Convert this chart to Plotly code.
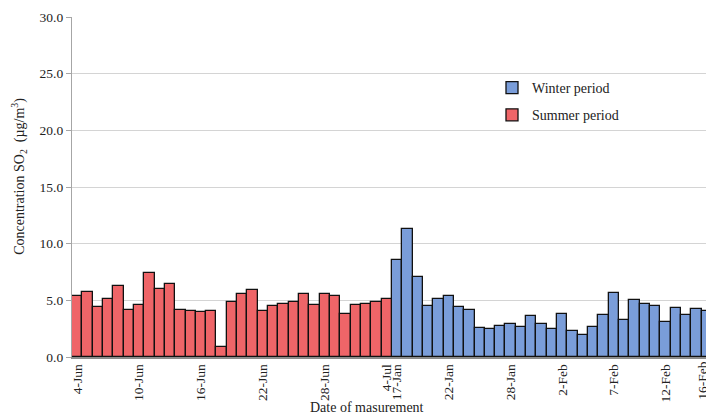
import pandas as pd
import plotly.graph_objects as go

# Daily SO2 concentrations (µg/m³)
summer_dates = [f"{d.day}-{d.strftime('%b')}" for d in pd.date_range("2019-06-04", "2019-07-04")]
winter_dates = [f"{d.day}-{d.strftime('%b')}" for d in pd.date_range("2020-01-17", "2020-02-16")]

summer_values = [5.34, 5.75, 4.42, 5.16, 6.25, 4.19, 4.63, 7.43, 6.02, 6.43,
                 4.19, 4.04, 3.95, 4.10, 0.86, 4.81, 5.52, 5.87, 4.10, 4.51,
                 4.72, 4.81, 5.60, 4.57, 5.52, 5.40, 3.81, 4.63, 4.72, 4.81, 5.16]
winter_values = [8.58, 11.27, 7.08, 4.54, 5.13, 5.34, 4.40, 4.16, 2.57, 2.48,
                 2.74, 2.92, 2.68, 3.63, 2.93, 2.48, 3.78, 2.33, 1.98, 2.65,
                 3.75, 5.69, 3.27, 4.99, 4.69, 4.51, 3.10, 4.28, 3.72, 4.22, 4.04]

tick_labels = ["4-Jun", "10-Jun", "16-Jun", "22-Jun", "28-Jun", "4-Jul",
               "17-Jan", "22-Jan", "28-Jan", "2-Feb", "7-Feb", "12-Feb", "16-Feb"]

all_dates = summer_dates + winter_dates
x_range = [-0.5, len(all_dates) - 1 - 0.07]

FONT = "Liberation Serif"
W, H = 706, 414
ML, MT, MB = 72, 17, 57

fig = go.Figure()
fig.add_trace(go.Bar(
    x=winter_dates, y=winter_values, name="Winter period", legendgroup="w",
    marker=dict(color="#7A9DD9", line=dict(color="#111111", width=1.3)),
))
fig.add_trace(go.Bar(
    x=summer_dates, y=summer_values, name="Summer period", legendgroup="s",
    marker=dict(color="#EF6568", line=dict(color="#111111", width=1.3)),
))

# tick labels that fall past the visible range are written as annotations
visible_ticks = [t for t in tick_labels if all_dates.index(t) <= x_range[1]]
hidden_ticks = [t for t in tick_labels if all_dates.index(t) > x_range[1]]
span = x_range[1] - x_range[0]
for t in hidden_ticks:
    fig.add_annotation(
        x=(all_dates.index(t) - x_range[0]) / span, y=0, xref="paper", yref="paper",
        text=t, textangle=-90, showarrow=False, xanchor="center", yanchor="top",
        xshift=-5, yshift=-3, font=dict(family=FONT, size=13.5, color="#222222"),
    )

plot_w = W - ML
plot_h = H - MT - MB
fig.add_annotation(
    x=(367 - ML) / plot_w, y=(H - MB - 408) / plot_h, xref="paper", yref="paper",
    text="Date of masurement", showarrow=False, xanchor="center", yanchor="middle",
    font=dict(family=FONT, size=14, color="#222222"),
)
fig.add_annotation(
    x=(19 - ML) / plot_w, y=0.53, xref="paper", yref="paper",
    text="Concentration SO<sub>2</sub>  (µg/m<sup>3</sup>)", textangle=-90,
    showarrow=False, xanchor="center", yanchor="middle",
    font=dict(family=FONT, size=14, color="#222222"),
)

fig.update_layout(
    width=W, height=H,
    margin=dict(l=ML, r=0, t=MT, b=MB),
    paper_bgcolor="white", plot_bgcolor="white",
    barmode="overlay", bargap=0,
    font=dict(family=FONT, size=13.5, color="#222222"),
    showlegend=True,
    legend=dict(
        x=(492 - ML) / plot_w, y=(H - MB - 72) / plot_h, xanchor="left", yanchor="top",
        bgcolor="rgba(0,0,0,0)", font=dict(family=FONT, size=14, color="#222222"),
        traceorder="grouped", tracegroupgap=6,
    ),
    xaxis=dict(
        type="category", categoryorder="array", categoryarray=all_dates,
        range=x_range, tickmode="array", tickvals=visible_ticks, ticktext=visible_ticks,
        tickangle=-90, showgrid=False, showline=True, linecolor="#8C8C8C", linewidth=1.5,
        ticks="", tickfont=dict(family=FONT, size=13.5, color="#222222"),
    ),
    yaxis=dict(
        range=[0, 30], tickmode="linear", tick0=0, dtick=5, tickformat=".1f",
        showgrid=True, gridcolor="#D4D4D4", gridwidth=1.3,
        showline=True, linecolor="#A6A6A6", linewidth=1.3,
        ticks="outside", ticklen=5, tickcolor="#A6A6A6",
        tickfont=dict(family=FONT, size=13.5, color="#222222"), zeroline=False,
    ),
)

fig.write_html("out.html")
